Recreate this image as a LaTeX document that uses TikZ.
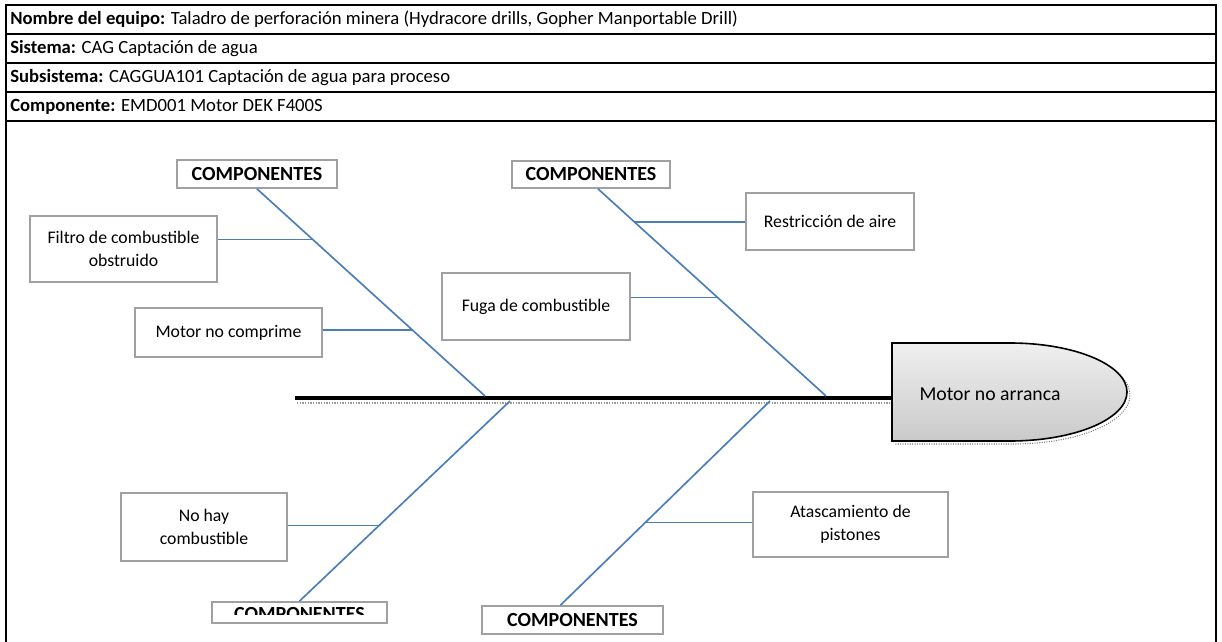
\documentclass[tikz,border=0pt]{standalone}
\usepackage{fontspec}
\setmainfont{Carlito}
\usetikzlibrary{calc}
\definecolor{bone}{RGB}{74,126,187}
\definecolor{boxgray}{RGB}{160,160,160}
\begin{document}
\begin{tikzpicture}[x=0.75pt,y=-0.75pt,
  frame/.style={line width=1.5pt,black},
  cause/.style={draw=boxgray,line width=1.3pt,fill=white,align=center,inner sep=0pt,
     font=\fontsize{13.3}{17}\selectfont},
  comp/.style={draw=boxgray,line width=1.3pt,fill=white,inner sep=0pt,
     font=\fontsize{15}{18}\selectfont\bfseries},
  bonel/.style={draw=bone,line width=1.25pt},
  hdr/.style={anchor=west,inner sep=0pt,font=\fontsize{14}{16}\selectfont}]
\useasboundingbox (0,0) rectangle (1222,642);
% header frame
\draw[frame] (6,642) -- (6,5) -- (1216,5) -- (1216,642);
\foreach \yy in {34,63,92,121} \draw[frame] (6,\yy) -- (1216,\yy);
\node[hdr] (h1) at (10,19.5) {\textbf{Nombre del equipo:} Taladro de perforación minera (Hydracore drills, Gopher Manportable Drill)};
\node[hdr] (h2) at (10,48.5) {\textbf{Sistema:} CAG Captación de agua};
\node[hdr] (h3) at (10,77.5) {\textbf{Subsistema:} CAGGUA101 Captación de agua para proceso};
\node[hdr] (h4) at (10,106.5) {\textbf{Componente:} EMD001 Motor DEK F400S};
% head
\draw[densely dotted,gray,line width=0.8pt,shift={(3,3)}] (892,343) -- (1010,343) arc[start angle=90,end angle=-90,x radius=87.75pt,y radius=36.75pt] -- (892,441);
\draw[line width=1.2pt,top color=gray!12,bottom color=gray!42] (892,343) -- (1010,343)
   arc[start angle=90,end angle=-90,x radius=87.75pt,y radius=36.75pt] -- (892,441) -- cycle;
\node[font=\fontsize{14.8}{18}\selectfont,inner sep=0pt] (head) at (990,394) {Motor no arranca};
% spine
\coordinate (sp0) at (295,398);
\coordinate (headW) at (892,398);
\draw[densely dotted,gray!80,line width=1pt] (297,403) -- (890,403);
\draw[line width=3.4pt] (sp0) -- (headW);
% category boxes
\node[comp,minimum width=120pt,minimum height=21pt] (compUL) at (257,174) {COMPONENTES};
\node[comp,minimum width=118.5pt,minimum height=20.25pt] (compUR) at (591,174.5) {COMPONENTES};
\node[comp,minimum width=131.25pt,minimum height=15.75pt] (compLL) at (299.5,612.5) {};
\begin{scope}
\clip (200,590) rectangle (400,614);
\node[font=\fontsize{15}{18}\selectfont\bfseries,inner sep=0pt] (compLLt) at (299.5,614) {COMPONENTES};
\end{scope}
\node[comp,minimum width=135.75pt,minimum height=21pt] (compLR) at (572.5,620) {COMPONENTES};
% bone ends on spine
\coordinate (b1) at (485,396);
\coordinate (b2) at (826,396);
\coordinate (b3) at (510,401);
\coordinate (b4) at (770,401);
\coordinate (t2) at ($(compUR.south)+(7,0)$);
\coordinate (t4) at ($(compLR.north)+(-12,0)$);
\draw[bonel] (compUL.south) -- (b1);
\draw[bonel] (t2) -- (b2);
\draw[bonel] (b3) -- (compLL.north);
\draw[bonel] (b4) -- (t4);
% causes
\node[cause,minimum width=140.25pt,minimum height=49.5pt] (filtro) at (123.5,249) {Filtro de combustible\\obstruido};
\node[cause,minimum width=140.25pt,minimum height=36.75pt] (motorc) at (228.5,332.5) {Motor no comprime};
\node[cause,minimum width=141pt,minimum height=50.25pt] (fuga) at (536,306.5) {\raisebox{-2pt}{Fuga de combustible}};
\node[cause,minimum width=126pt,minimum height=42.75pt] (restr) at (830,221.5) {\raisebox{-1pt}{Restricción de aire}};
\node[cause,minimum width=124.5pt,minimum height=51pt] (nohay) at (204,527) {No hay\\combustible};
\node[cause,minimum width=146.25pt,minimum height=48.75pt] (atasc) at (850.5,524.5) {Atascamiento de\\pistones};
% points on bones
\coordinate (c1) at ($(compUL.south)!0.2452!(b1)$);
\coordinate (c2) at ($(compUL.south)!0.6827!(b1)$);
\coordinate (c3) at ($(t2)!0.1587!(b2)$);
\coordinate (c4) at ($(t2)!0.524!(b2)$);
\coordinate (c5) at ($(b3)!0.622!(compLL.north)$);
\coordinate (c6) at ($(b4)!0.595!(t4)$);
\draw[bonel] (filtro.east |- c1) -- (c1);
\draw[bonel] (motorc.east |- c2) -- (c2);
\draw[bonel] (restr.west |- c3) -- (c3);
\draw[bonel] (fuga.east |- c4) -- (c4);
\draw[bonel] (nohay.east |- c5) -- (c5);
\draw[bonel] (atasc.west |- c6) -- (c6);
\end{tikzpicture}
\end{document}
